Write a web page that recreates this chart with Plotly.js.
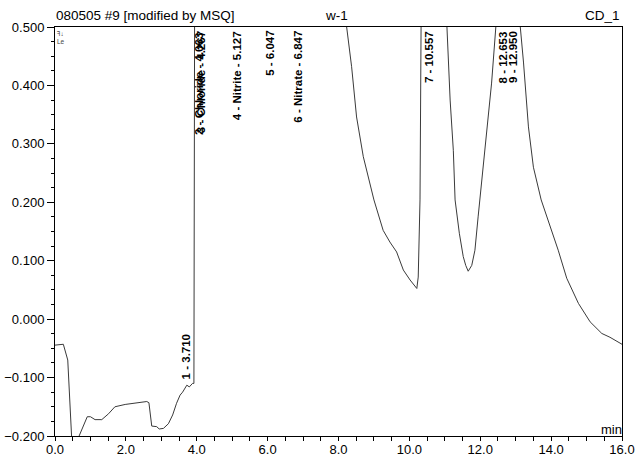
<!DOCTYPE html>
<html>
<head>
<meta charset="utf-8">
<script src="https://cdn.plot.ly/plotly-3.0.1.min.js"></script>
<style>html,body{margin:0;padding:0;background:#fff;}#chart{width:636px;height:459px;}</style>
</head>
<body>
<div id="chart"></div>
<script>
// Retention time (min)
const timeMin = [0, 0.235, 0.36, 0.47, 0.55, 0.65, 0.68, 0.91, 1.0, 1.13, 1.32, 1.51, 1.69, 1.98, 2.30, 2.59, 2.65, 2.73, 2.87, 2.94, 3.06, 3.20, 3.32, 3.43, 3.53, 3.60, 3.72, 3.79, 3.88, 3.92,
  3.96, 4.063, 4.16, 4.267, 4.7, 5.127, 5.6, 6.047, 6.5, 6.847, 7.5, 8.0, 8.23,
  8.37, 8.51, 8.70, 9.0, 9.26, 9.45, 9.64, 9.83, 10.02, 10.21, 10.25, 10.30, 10.33, 10.557, 11.06,
  11.15, 11.24, 11.29, 11.41, 11.52, 11.59, 11.66, 11.76, 11.85, 11.94, 11.99, 12.18, 12.32, 12.44,
  12.653, 12.80, 12.95, 13.13, 13.22, 13.36, 13.50, 13.72, 13.97, 14.20, 14.44, 14.58, 14.77, 15.10, 15.43, 15.66, 16.0];
// Conductivity signal
const signal = [-0.0445, -0.043, -0.070, -0.22, -0.30, -0.22, -0.20, -0.167, -0.167, -0.172, -0.172, -0.162, -0.150, -0.146, -0.143, -0.141, -0.143, -0.183, -0.184, -0.188, -0.187, -0.179, -0.164, -0.144, -0.130, -0.125, -0.113, -0.116, -0.110, -0.110,
  1.2, 3.5, 2.5, 3.2, 1.8, 2.2, 1.5, 1.7, 1.4, 1.9, 1.1, 0.7, 0.5,
  0.432, 0.346, 0.278, 0.204, 0.152, 0.132, 0.115, 0.084, 0.067, 0.0525, 0.072, 0.204, 0.5, 3.0, 0.5,
  0.375, 0.289, 0.204, 0.147, 0.107, 0.092, 0.082, 0.092, 0.118, 0.175, 0.204, 0.318, 0.404, 0.5,
  2.5, 1.6, 2.2, 0.5, 0.44, 0.329, 0.26, 0.204, 0.161, 0.118, 0.070, 0.0525, 0.027, -0.0046, -0.0245, -0.031, -0.043];

// Peak labels
const peakNumbers = [1, 2, 3, 4, 5, 6, 7, 8, 9];
const peakNames = ["", "Chloride", "Chloride", "Nitrite", "", "Nitrate", "", "", ""];
const peakTimes = [3.710, 4.063, 4.267, 5.127, 6.047, 6.847, 10.557, 12.653, 12.950];
const peakHeights = [-0.110, 3.5, 3.2, 2.2, 1.7, 1.9, 3.0, 2.5, 2.2];

const sampleTitle = "080505 #9 [modified by MSQ]";
const programName = "w-1";
const channelName = "CD_1";
const xUnit = "min";
const cornerMark = "ꟻ↓<br>Le";

const FONT = "Liberation Sans, Arial, sans-serif";
const lblFont = {family: FONT, size: 11.5, color: "#000", weight: "bold"};
const yMax = 0.5;

const annotations = [];
peakNumbers.forEach((n, i) => {
  const txt = n + " - " + (peakNames[i] ? peakNames[i] + " - " : "") + peakTimes[i].toFixed(3);
  const onScale = peakHeights[i] < yMax;
  const a = {
    x: peakTimes[i], xref: "x",
    text: txt, textangle: -90, showarrow: false,
    font: lblFont, xanchor: "center"
  };
  if (onScale) {
    a.y = peakHeights[i]; a.yref = "y"; a.yanchor = "bottom"; a.yshift = 2; a.xshift = -1;
  } else {
    a.y = 1; a.yref = "paper"; a.yanchor = "top"; a.yshift = -2;
  }
  if (n === 3) a.xshift = -5;
  if (n === 2) { a.yshift = -4; a.xshift = 0; }
  if (n === 9) a.xshift = -1;
  annotations.push(a);
});

const topFont = {family: FONT, size: 13.5, color: "#000"};
annotations.push({xref: "paper", yref: "paper", x: 0, y: 1, xanchor: "left", yanchor: "bottom", text: sampleTitle, showarrow: false, font: topFont, xshift: -1, yshift: 2});
annotations.push({xref: "paper", yref: "paper", x: 0.497, y: 1, xanchor: "center", yanchor: "bottom", text: programName, showarrow: false, font: topFont, yshift: 2});
annotations.push({xref: "paper", yref: "paper", x: 1, y: 1, xanchor: "right", yanchor: "bottom", text: channelName, showarrow: false, font: topFont, yshift: 2});
annotations.push({xref: "paper", yref: "paper", x: 1, y: 0, xanchor: "right", yanchor: "bottom", text: xUnit, showarrow: false, font: {family: FONT, size: 13, color: "#000"}, xshift: 2, yshift: -3});
annotations.push({xref: "paper", yref: "paper", x: 0, y: 1, xanchor: "left", yanchor: "top", text: cornerMark, showarrow: false, font: {family: FONT, size: 6.5, color: "#444"}, xshift: 0, yshift: -1});

const trace = {
  x: timeMin, y: signal, type: "scatter", mode: "lines",
  line: {color: "#3a3a3a", width: 1}, hoverinfo: "skip"
};

const layout = {
  width: 636, height: 459,
  margin: {l: 55, r: 14, t: 27, b: 23, pad: 0},
  paper_bgcolor: "#fff", plot_bgcolor: "#fff",
  showlegend: false,
  font: {family: FONT, size: 13, color: "#000"},
  xaxis: {
    range: [0, 16], dtick: 2, tick0: 0, tickformat: ".1f",
    showgrid: false, zeroline: false, showline: true, mirror: true,
    linecolor: "#000", linewidth: 1,
    ticks: "outside", ticklen: 4, tickcolor: "#000", tickwidth: 1,
    ticklabelstandoff: -3,
    minor: {dtick: 0.5, ticks: "outside", ticklen: 4, tickcolor: "#000", showgrid: false},
    tickfont: {family: FONT, size: 13, color: "#000"}, automargin: false
  },
  yaxis: {
    range: [-0.2, 0.5], dtick: 0.1, tick0: 0, tickformat: ".3f",
    showgrid: false, zeroline: false, showline: true, mirror: true,
    linecolor: "#000", linewidth: 1,
    ticks: "outside", ticklen: 7, tickcolor: "#000", tickwidth: 1,
    minor: {dtick: 0.025, ticks: "outside", ticklen: 3, tickcolor: "#000", showgrid: false},
    tickfont: {family: FONT, size: 13, color: "#000"}, automargin: false
  },
  annotations: annotations
};

Plotly.newPlot("chart", [trace], layout, {displayModeBar: false, staticPlot: true});
</script>
</body>
</html>
